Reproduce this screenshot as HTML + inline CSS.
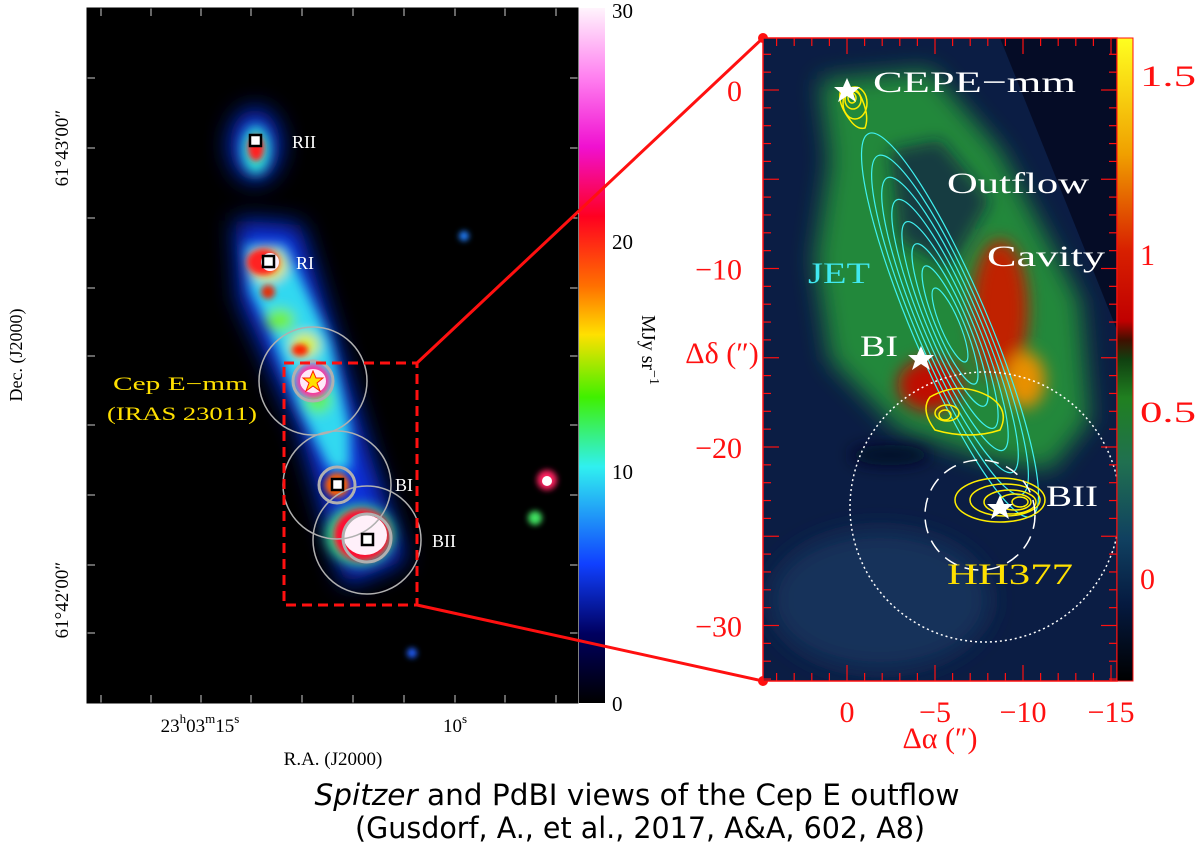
<!DOCTYPE html>
<html><head><meta charset="utf-8">
<style>
html,body{margin:0;padding:0;background:#fff;width:1200px;height:850px;overflow:hidden}
svg text{font-family:"Liberation Serif","DejaVu Serif",serif}
</style></head>
<body>
<svg width="1200" height="850" viewBox="0 0 1200 850" xmlns="http://www.w3.org/2000/svg">
<defs>
<filter id="b3" x="-50%" y="-50%" width="200%" height="200%"><feGaussianBlur stdDeviation="3"/></filter>
<filter id="b6" x="-50%" y="-50%" width="200%" height="200%"><feGaussianBlur stdDeviation="6"/></filter>
<filter id="b8" x="-50%" y="-50%" width="200%" height="200%"><feGaussianBlur stdDeviation="8"/></filter>
<filter id="b14" x="-50%" y="-50%" width="200%" height="200%"><feGaussianBlur stdDeviation="12"/></filter>
<linearGradient id="cbL" x1="0" y1="0" x2="0" y2="1">
<stop offset="0" stop-color="#fff4fc"/><stop offset="0.1" stop-color="#ff80f0"/><stop offset="0.2" stop-color="#f010d0"/>
<stop offset="0.3" stop-color="#ff0020"/><stop offset="0.4" stop-color="#ff7000"/><stop offset="0.47" stop-color="#ffe000"/>
<stop offset="0.56" stop-color="#40f000"/><stop offset="0.66" stop-color="#30f0f0"/><stop offset="0.8" stop-color="#1040ff"/>
<stop offset="0.9" stop-color="#000060"/><stop offset="1" stop-color="#000000"/>
</linearGradient>
<linearGradient id="cbR" x1="0" y1="0" x2="0" y2="1">
<stop offset="0" stop-color="#ffff20"/><stop offset="0.18" stop-color="#f0a000"/><stop offset="0.33" stop-color="#d82000"/>
<stop offset="0.44" stop-color="#c00000"/><stop offset="0.47" stop-color="#401000"/><stop offset="0.5" stop-color="#104010"/>
<stop offset="0.56" stop-color="#208020"/><stop offset="0.66" stop-color="#207050"/><stop offset="0.78" stop-color="#104060"/>
<stop offset="0.88" stop-color="#051a40"/><stop offset="1" stop-color="#000000"/>
</linearGradient>
<clipPath id="clipL"><rect x="87" y="8" width="491" height="695"/></clipPath>
<clipPath id="clipR"><rect x="763" y="38" width="354" height="643"/></clipPath>
</defs>

<!-- LEFT PANEL -->
<g clip-path="url(#clipL)">
<rect x="87" y="8" width="491" height="695" fill="#000"/>
<g filter="url(#b14)">
<path d="M235 220 L300 225 L375 470 L405 560 L345 585 L300 430 L240 300 Z" fill="#0a30e0"/>
<ellipse cx="255" cy="145" rx="25" ry="36" fill="#0a30e0"/>
</g>
<g filter="url(#b6)">
<path d="M245 245 L285 245 L330 340 L350 430 L350 470 L330 470 L300 410 L270 330 L250 290 Z" fill="#30d8f0"/>
<ellipse cx="256" cy="150" rx="14" ry="24" fill="#30e8d0"/>
<ellipse cx="360" cy="535" rx="34" ry="30" fill="#40e080"/>
<ellipse cx="280" cy="320" rx="15" ry="12" fill="#70f040"/>
<ellipse cx="305" cy="345" rx="14" ry="12" fill="#e0f000"/>
<ellipse cx="318" cy="400" rx="14" ry="14" fill="#60f060"/>
<ellipse cx="268" cy="265" rx="18" ry="16" fill="#f0e020"/>
</g>
<g filter="url(#b3)">
<ellipse cx="263" cy="262" rx="16" ry="13" fill="#ff2020"/>
<ellipse cx="268" cy="292" rx="7" ry="7" fill="#e03010"/>
<ellipse cx="256" cy="148" rx="8" ry="13" fill="#ff2020"/>
<ellipse cx="300" cy="350" rx="8" ry="6" fill="#ff2000"/>
<ellipse cx="313" cy="381" rx="17" ry="17" fill="#ff30a0"/>
<ellipse cx="337" cy="485" rx="12" ry="12" fill="#ff6000"/>
<ellipse cx="362" cy="535" rx="28" ry="26" fill="#ff1030"/>
<ellipse cx="547" cy="480" rx="10" ry="10" fill="#ff2060"/>
<ellipse cx="535" cy="518" rx="7" ry="7" fill="#40e060"/>
<ellipse cx="464" cy="236" rx="5" ry="5" fill="#2080ff"/>
<ellipse cx="412" cy="653" rx="5" ry="5" fill="#2060ff"/>
</g>
<ellipse cx="313" cy="381" rx="13" ry="12" fill="#ffe8f8"/>
<ellipse cx="365" cy="535" rx="22" ry="20" fill="#fff0fa"/>
<ellipse cx="270" cy="262" rx="9" ry="9" fill="#fff0fa"/>
<ellipse cx="547" cy="481" rx="5" ry="5" fill="#fff"/>
</g>
<g fill="none" stroke="#b0b0b0">
<circle cx="313" cy="381" r="54" stroke-width="1.5"/>
<circle cx="337" cy="485" r="54" stroke-width="1.5"/>
<circle cx="367" cy="540" r="54" stroke-width="1.5"/>
<circle cx="313" cy="381" r="20" stroke-width="3"/>
<circle cx="337" cy="485" r="18" stroke-width="3"/>
<circle cx="367" cy="538" r="24" stroke-width="3"/>
</g>
<g fill="#fff" stroke="#000" stroke-width="2.5">
<rect x="250" y="135" width="11" height="11"/>
<rect x="263" y="256" width="11" height="11"/>
<rect x="332" y="479" width="11" height="11"/>
<rect x="362" y="534" width="11" height="11"/>
</g>
<polygon points="313,371 316,378 323,378 317,383 320,391 313,386 306,391 309,383 303,378 310,378" fill="#ffe000" stroke="#ff2000" stroke-width="1"/>
<g font-size="18" fill="#fff">
<text x="292" y="148">RII</text><text x="296" y="269">RI</text>
<text x="395" y="491">BI</text><text x="432" y="547">BII</text>
</g>
<text x="248" y="390" font-size="19" fill="#ffe000" text-anchor="end" textLength="135" lengthAdjust="spacingAndGlyphs">Cep E−mm</text>
<text x="257" y="420" font-size="19" fill="#ffe000" text-anchor="end" textLength="150" lengthAdjust="spacingAndGlyphs">(IRAS 23011)</text>
<rect x="284" y="363" width="133" height="242" fill="none" stroke="#ff1010" stroke-width="3" stroke-dasharray="10,6"/>
<g stroke="#ccc" stroke-width="1" id="lticks"></g>
<rect x="87" y="8" width="491" height="695" fill="none" stroke="#000" stroke-width="1"/>
<rect x="579" y="8" width="26" height="695" fill="url(#cbL)"/>
<g font-size="21" fill="#000">
<text x="612" y="18">30</text><text x="612" y="249">20</text><text x="612" y="479">10</text><text x="612" y="711">0</text>
</g>
<text transform="translate(642,350) rotate(90)" font-size="20" text-anchor="middle">MJy sr<tspan dy="-8" font-size="14">−1</tspan></text>
<g font-size="19">
<text transform="translate(68,148) rotate(-90)" text-anchor="middle">61°43′00″</text>
<text transform="translate(68,600) rotate(-90)" text-anchor="middle">61°42′00″</text>
</g>
<text transform="translate(22,355) rotate(-90)" font-size="18" text-anchor="middle">Dec. (J2000)</text>
<g font-size="19">
<text x="200" y="732" text-anchor="middle">23<tspan dy="-9" font-size="13">h</tspan><tspan dy="9">03</tspan><tspan dy="-9" font-size="13">m</tspan><tspan dy="9">15</tspan><tspan dy="-9" font-size="13">s</tspan></text>
<text x="455" y="732" text-anchor="middle">10<tspan dy="-9" font-size="13">s</tspan></text>
</g>
<text x="333" y="765" font-size="19" text-anchor="middle">R.A. (J2000)</text>

<g stroke="#ff1010" stroke-width="3">
<line x1="417" y1="363" x2="763" y2="38"/><line x1="417" y1="605" x2="763" y2="681"/>
</g>
<circle cx="763" cy="38" r="5" fill="#ff1010"/><circle cx="763" cy="681" r="5" fill="#ff1010"/>

<!-- RIGHT PANEL -->
<g clip-path="url(#clipR)">
<rect x="763" y="38" width="354" height="643" fill="#0b1d44"/>
<path d="M1000 38 L1117 38 L1117 330 Z" fill="#050c26"/>
<g filter="url(#b14)">
<ellipse cx="880" cy="600" rx="110" ry="70" fill="#14305a"/>
<path d="M820 80 L930 70 L1000 150 L1080 300 L1090 420 L1050 470 L990 460 L900 430 L830 360 L815 260 L830 160 Z" fill="#22883a"/>
</g>
<g filter="url(#b8)">
<path d="M890 150 L940 140 L990 200 L950 270 L900 240 Z" fill="#0b1d44" opacity="0.7"/>
<ellipse cx="1000" cy="310" rx="28" ry="70" fill="#c02000"/>
<ellipse cx="1025" cy="380" rx="20" ry="28" fill="#e89000"/>
<ellipse cx="930" cy="385" rx="32" ry="26" fill="#c01000"/>
<ellipse cx="890" cy="455" rx="40" ry="10" fill="#050c26"/>
</g>
<g fill="none" stroke="#40f0f0" stroke-width="1.2" id="jet"></g>
<g fill="none" stroke="#ffee00" stroke-width="1.5">
<ellipse cx="855" cy="103" rx="12" ry="16"/><ellipse cx="853" cy="100" rx="8" ry="9"/><ellipse cx="852" cy="98" rx="4" ry="5"/>
<path d="M842 88 Q835 100 850 120 Q857 130 865 128 Q870 115 860 95 Q855 85 842 88Z"/>
<path d="M930 397 Q920 410 935 430 Q970 440 1000 430 Q1010 410 990 397 Q960 380 930 397Z"/>
<ellipse cx="947" cy="413" rx="12" ry="8"/><ellipse cx="945" cy="415" rx="6" ry="5"/>
<ellipse cx="1000" cy="500" rx="45" ry="22"/><ellipse cx="1005" cy="500" rx="35" ry="16"/><ellipse cx="1010" cy="502" rx="26" ry="12"/><ellipse cx="1015" cy="502" rx="16" ry="8"/><ellipse cx="1020" cy="502" rx="8" ry="5"/>
</g>
<circle cx="985" cy="507" r="135" fill="none" stroke="#fff" stroke-width="1.5" stroke-dasharray="2,3"/>
<circle cx="980" cy="515" r="55" fill="none" stroke="#fff" stroke-width="1.5" stroke-dasharray="14,8"/>
</g>
<g fill="#fff">
<polygon points="847,78 851,87 860,87 853,93 856,102 847,96 838,102 841,93 834,87 843,87"/>
<polygon points="921,346 925,355 934,355 927,361 930,370 921,364 912,370 915,361 908,355 917,355"/>
<polygon points="1000,495 1004,504 1013,504 1006,510 1009,519 1000,513 991,519 994,510 987,504 996,504"/>
</g>
<g font-size="30" fill="#fff">
<text x="873" y="92" textLength="203" lengthAdjust="spacingAndGlyphs">CEPE−mm</text><text x="947" y="193" textLength="142" lengthAdjust="spacingAndGlyphs">Outflow</text><text x="987" y="266" textLength="118" lengthAdjust="spacingAndGlyphs">Cavity</text>
<text x="860" y="356" textLength="38" lengthAdjust="spacingAndGlyphs">BI</text><text x="1046" y="506" textLength="52" lengthAdjust="spacingAndGlyphs">BII</text>
<text x="808" y="283" fill="#40e8f0" textLength="62" lengthAdjust="spacingAndGlyphs">JET</text><text x="947" y="584" fill="#ffe000" textLength="126" lengthAdjust="spacingAndGlyphs">HH377</text>
</g>
<g stroke="#ff1010" stroke-width="1.2" id="rticks"></g>
<rect x="763" y="38" width="354" height="643" fill="none" stroke="#ff1010" stroke-width="1.5"/>
<rect x="1117" y="38" width="16" height="643" fill="url(#cbR)" stroke="#ff1010"/>
<g font-size="30" fill="#ff1010">
<text x="1140" y="86" textLength="56" lengthAdjust="spacingAndGlyphs">1.5</text><text x="1140" y="265">1</text><text x="1140" y="422" textLength="56" lengthAdjust="spacingAndGlyphs">0.5</text><text x="1140" y="589">0</text>
</g>
<g font-size="30" fill="#ff1010" text-anchor="end" id="ylab"></g>
<g font-size="30" fill="#ff1010" text-anchor="middle" id="xlab"></g>
<text x="722" y="363" font-size="30" fill="#ff1010" text-anchor="middle">Δδ (″)</text>
<text x="940" y="748" font-size="30" fill="#ff1010" text-anchor="middle">Δα (″)</text>

<g font-size="29" text-anchor="middle">
<text x="637" y="805" style="font-family:'DejaVu Sans',sans-serif" textLength="645" lengthAdjust="spacingAndGlyphs"><tspan font-style="italic">Spitzer</tspan> and PdBI views of the Cep E outflow</text>
<text x="640" y="838" style="font-family:'DejaVu Sans',sans-serif" textLength="570" lengthAdjust="spacingAndGlyphs">(Gusdorf, A., et al., 2017, A&amp;A, 602, A8)</text>
</g>
</svg>
<script>
const yTicks=[0,-10,-20,-30];
const xTicks=[0,-5,-10,-15];
const ns="http://www.w3.org/2000/svg";
function yPix(v){return 90-v*17.85;}
function xPix(v){return 847-v*17.6;}
const ylab=document.getElementById('ylab'),xlab=document.getElementById('xlab'),rt=document.getElementById('rticks');
yTicks.forEach(v=>{const t=document.createElementNS(ns,'text');t.setAttribute('x',742);t.setAttribute('y',yPix(v)+11);t.textContent=v===0?'0':'−'+Math.abs(v);


ylab.appendChild(t);});
xTicks.forEach(v=>{const t=document.createElementNS(ns,'text');t.setAttribute('x',xPix(v));t.setAttribute('y',722);t.textContent=v===0?'0':'−'+Math.abs(v);


xlab.appendChild(t);});
function ln(g,x1,y1,x2,y2){const l=document.createElementNS(ns,'line');l.setAttribute('x1',x1);l.setAttribute('y1',y1);l.setAttribute('x2',x2);l.setAttribute('y2',y2);g.appendChild(l);}
for(let v=2;v>=-33;v--){const y=yPix(v);if(y<38||y>681)continue;const L=v%5===0?16:8;ln(rt,763,y,763+L,y);ln(rt,1117,y,1117-L,y);}
for(let v=4;v>=-15;v--){const x=xPix(v);if(x<763||x>1117)continue;const L=v%5===0?16:8;ln(rt,x,38,x,38+L);ln(rt,x,681,x,681-L);}
const lt=document.getElementById('lticks');
[78,148,218,288,356,425,495,565,633].forEach(y=>{ln(lt,87,y,95,y);ln(lt,578,y,570,y);});
[101,151,201,251,302,353,404,455,505,556].forEach(x=>{ln(lt,x,703,x,695);ln(lt,x,8,x,16);});
const jet=document.getElementById('jet');
const jetLevels=[1,0.88,0.76,0.64,0.52,0.4,0.28,0.16];
jetLevels.forEach(s=>{const e=document.createElementNS(ns,'ellipse');
e.setAttribute('cx',950);e.setAttribute('cy',325);e.setAttribute('rx',34*s+4);e.setAttribute('ry',200*s+8);
e.setAttribute('transform','rotate(-23 950 325)');

jet.appendChild(e);});
</script>
</body></html>
